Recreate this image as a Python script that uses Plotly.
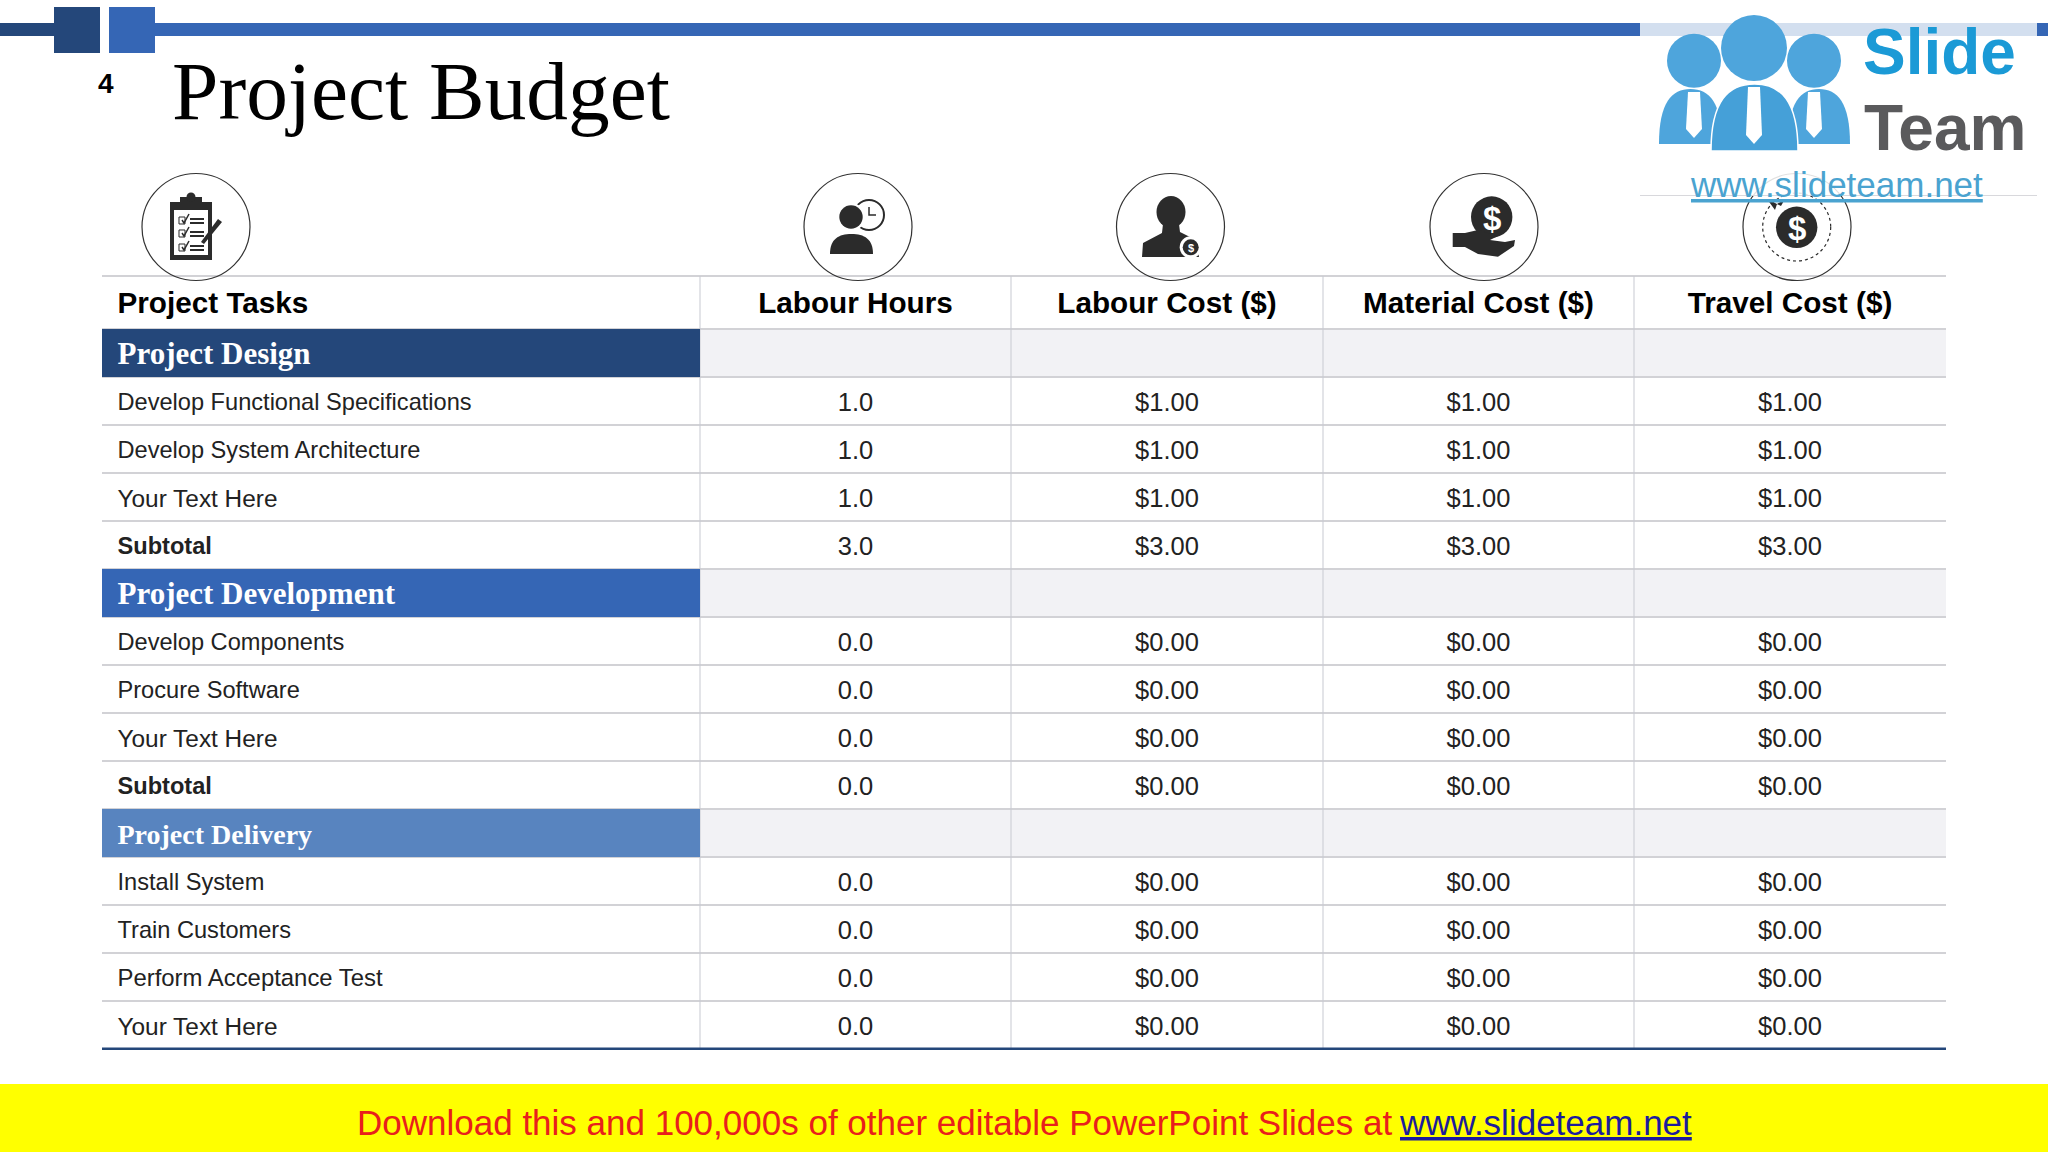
import plotly.graph_objects as go

W, H = 2048, 1152

# ---- data ----
tasks = ["Project Design", "Develop Functional Specifications", "Develop System Architecture", "Your Text Here", "Subtotal",
         "Project Development", "Develop Components", "Procure Software", "Your Text Here", "Subtotal",
         "Project Delivery", "Install System", "Train Customers", "Perform Acceptance Test", "Your Text Here"]
labour_hours = [None, 1.0, 1.0, 1.0, 3.0, None, 0.0, 0.0, 0.0, 0.0, None, 0.0, 0.0, 0.0, 0.0]
labour_cost = [None, 1.0, 1.0, 1.0, 3.0, None, 0.0, 0.0, 0.0, 0.0, None, 0.0, 0.0, 0.0, 0.0]
material_cost = [None, 1.0, 1.0, 1.0, 3.0, None, 0.0, 0.0, 0.0, 0.0, None, 0.0, 0.0, 0.0, 0.0]
travel_cost = [None, 1.0, 1.0, 1.0, 3.0, None, 0.0, 0.0, 0.0, 0.0, None, 0.0, 0.0, 0.0, 0.0]
headers = ["Project Tasks", "Labour Hours", "Labour Cost ($)", "Material Cost ($)", "Travel Cost ($)"]
section_colors = {"Project Design": "#24477a", "Project Development": "#3566b5", "Project Delivery": "#5884bf"}
label_sizes = {"Project Design": 31, "Project Development": 31, "Project Delivery": 28,
               "Your Text Here": 24.4, "Perform Acceptance Test": 23.9}

SANS = "Liberation Sans"
SERIF = "Liberation Serif"
GRID = "#d2d2d6"
VGRID = "#c8cad2"
TEXT = "#222222"

# table geometry on a pixel-sized hidden axis pair
col_edges = [102, 700, 1011, 1323, 1634, 1946]
table_top, header_h, row_h = 276, 53, 48
body_top = table_top + header_h
table_bottom = body_top + row_h * len(tasks)
text_shift = 3.5
row_mid = [body_top + row_h * (i + 0.5) + text_shift for i in range(len(tasks))]
header_mid = table_top + header_h / 2 + text_shift
col_mid = [(a + b) / 2 for a, b in zip(col_edges, col_edges[1:])]
label_x = col_edges[0] + 15.5

def hours(v): return "" if v is None else f"{v:.1f}"
def money(v): return "" if v is None else f"${v:.2f}"

is_sec = [t in section_colors for t in tasks]
fig = go.Figure()
skip = dict(mode="text", hoverinfo="skip", showlegend=False, cliponaxis=False)

# header row
fig.add_trace(go.Scatter(x=[label_x], y=[header_mid], text=[f"<b>{headers[0]}</b>"],
                         textposition="middle right", name=headers[0],
                         textfont=dict(family=SANS, size=29.7, color="black"), **skip))
fig.add_trace(go.Scatter(x=col_mid[1:], y=[header_mid] * 4, text=[f"<b>{h}</b>" for h in headers[1:]],
                         textposition="middle center", name="headers",
                         textfont=dict(family=SANS, size=29.7, color="black"), **skip))
# task column
fig.add_trace(go.Scatter(x=[label_x] * len(tasks), y=row_mid,
                         text=[f"<b>{t}</b>" if (t in section_colors or t == "Subtotal") else t for t in tasks],
                         textposition="middle right", name="Project Tasks",
                         textfont=dict(family=[SERIF if s else SANS for s in is_sec],
                                       size=[label_sizes.get(t, 23.6) for t in tasks],
                                       color=["white" if s else TEXT for s in is_sec]), **skip))
# value columns
for j, (name, vals, fmt) in enumerate([("Labour Hours", labour_hours, hours), ("Labour Cost", labour_cost, money),
                                       ("Material Cost", material_cost, money), ("Travel Cost", travel_cost, money)]):
    fig.add_trace(go.Scatter(x=[col_mid[j + 1]] * len(vals), y=row_mid, text=[fmt(v) for v in vals],
                             textposition="middle center", name=name,
                             textfont=dict(family=SANS, size=25.5, color=TEXT), **skip))

# ---- pixel helpers for the slide decoration ----
def X(p): return p / W
def Y(p): return 1 - p / H
shapes, notes = [], []

def rect(x0, y0, x1, y1, color, layer="above"):
    shapes.append(dict(type="rect", xref="paper", yref="paper", x0=X(x0), x1=X(x1), y0=Y(y0), y1=Y(y1),
                       fillcolor=color, line_width=0, layer=layer))

def ell(cx, cy, rx, ry, fill=None, line=None, lw=1.2, dash=None):
    shapes.append(dict(type="circle", xref="paper", yref="paper", x0=X(cx - rx), x1=X(cx + rx), y0=Y(cy - ry), y1=Y(cy + ry),
                       fillcolor=fill or "rgba(0,0,0,0)", layer="above",
                       line=dict(color=line or "rgba(0,0,0,0)", width=lw if line else 0, dash=dash or "solid")))

def poly(pts, fill=None, line=None, lw=1.5, close=True):
    d = "M" + " L".join(f"{X(a):.5f},{Y(b):.5f}" for a, b in pts) + (" Z" if close else "")
    shapes.append(dict(type="path", xref="paper", yref="paper", path=d, fillcolor=fill or "rgba(0,0,0,0)", layer="above",
                       line=dict(color=line or "rgba(0,0,0,0)", width=lw if line else 0)))

def dome(x0, x1, top, bot, fill, line=None):
    w = x1 - x0
    d = (f"M{X(x0):.5f},{Y(bot):.5f} C{X(x0):.5f},{Y(top + (bot - top) * 0.25):.5f} {X(x0 + w * 0.2):.5f},{Y(top):.5f} {X(x0 + w * 0.5):.5f},{Y(top):.5f} "
         f"C{X(x1 - w * 0.2):.5f},{Y(top):.5f} {X(x1):.5f},{Y(top + (bot - top) * 0.25):.5f} {X(x1):.5f},{Y(bot):.5f} Z")
    shapes.append(dict(type="path", xref="paper", yref="paper", path=d, fillcolor=fill, layer="above",
                       line=dict(color=line or "rgba(0,0,0,0)", width=1.5 if line else 0)))

def text(x, y, s, size, color, family=SANS, anchor="left", **font):
    notes.append(dict(xref="paper", yref="paper", x=X(x), y=Y(y), xanchor=anchor, yanchor="middle", text=s, showarrow=False,
                      font=dict(family=family, size=size, color=color, **font)))

# table backgrounds and rules
for i, t in enumerate(tasks):
    if t in section_colors:
        y0, y1 = body_top + i * row_h, body_top + (i + 1) * row_h
        rect(col_edges[1], y0, col_edges[-1], y1, "#f2f2f5", "below")
for i in range(len(tasks) + 1):
    y = body_top + i * row_h
    rect(col_edges[0], y - 1, col_edges[-1], y + 1, GRID, "below")
rect(col_edges[0], table_top - 1, col_edges[-1], table_top + 1, GRID, "below")
for e in col_edges[1:-1]:
    rect(e - 0.5, table_top, e + 0.5, table_bottom, VGRID, "below")
for i, t in enumerate(tasks):
    if t in section_colors:
        y0, y1 = body_top + i * row_h, body_top + (i + 1) * row_h
        rect(col_edges[0], y0, col_edges[1], y1, section_colors[t], "below")
rect(col_edges[0], table_bottom - 1.5, col_edges[-1], table_bottom + 1, "#24477a", "below")

# top bar
rect(0, 23, 54, 36, "#24477a")
rect(54, 7, 100, 53, "#24477a")
rect(109, 7, 155, 53, "#3566b5")
rect(155, 23, 1640, 36, "#3566b5")
rect(1640, 23, 2037, 36, "#d3dfef")
rect(2037, 23, 2048, 36, "#3566b5")

# title and slide number
text(170, 91, "Project Budget", 83.4, "black", SERIF)
text(95.5, 84, "<b>4</b>", 28, "black")

# icon circles
for cx in (196, 858, 1170.5, 1484, 1797):
    ell(cx, 227, 54, 53.5, line="#333333")
INK = "#2b2b2b"

# clipboard
poly([(170, 202), (212, 202), (212, 260), (170, 260)], INK)
rect(180, 197, 202, 204, INK)
ell(191, 197, 4.5, 4.5, INK)
rect(174, 210, 208, 255, "white")
for yy in (220, 233, 247):
    poly([(179, yy - 3), (185, yy - 3), (185, yy + 4), (179, yy + 4)], None, INK, 1)
    poly([(182, yy), (184, yy + 3), (189, yy - 6)], None, INK, 1.5, close=False)
    rect(190, yy - 2, 204, yy, INK)
    rect(190, yy + 2, 204, yy + 4, INK)
poly([(201, 242), (218, 219), (222, 222), (204, 244)], INK)

# labour hours: clock behind a person
ell(869, 215, 15, 15, "white", INK, 2)
poly([(869, 207), (869, 215), (876, 215)], None, INK, 1.5, close=False)
ell(851, 217, 14, 14, "white")
ell(851, 217, 11.7, 11.7, INK)
dome(830, 873, 234, 254, INK)

# labour cost: person with coin
ell(1171, 212, 14.5, 16, INK)
poly([(1163, 224), (1179, 224), (1180, 232), (1196, 240), (1199, 257), (1142, 257), (1143, 243), (1162, 233)], INK)
ell(1190.7, 247.3, 11, 11, "white")
ell(1190.7, 247.3, 8, 8, INK)
text(1190.7, 247.8, "<b>$</b>", 11, "white", anchor="center")

# material cost: coin over hand
ell(1491.7, 217, 20.7, 20.7, INK)
text(1491.7, 218, "<b>$</b>", 33, "white", anchor="center")
poly([(1452.7, 233), (1465, 233), (1478, 230), (1498, 236), (1490, 240), (1505, 242), (1515, 240), (1514, 246),
      (1498, 256.7), (1478, 254), (1465, 247), (1452.7, 247)], INK)

# travel cost: coin in dashed orbit
ell(1796.7, 227, 34, 34, line=INK, lw=1.2, dash="dot")
ell(1796.7, 227.3, 20.7, 20.7, INK)
text(1796.7, 228.3, "<b>$</b>", 33, "white", anchor="center")
poly([(1767, 199), (1781, 206), (1785, 199), (1777, 204), (1775, 210)], INK)

# logo panel
rect(1640, 36, 2037, 195, "rgba(255,255,255,0.85)")
poly([(1640, 195.5), (2037, 195.5)], None, "#d8d8dc", 1, close=False)
BLUE = "#4ea5dc"
ell(1694, 60.7, 27, 27, BLUE)
ell(1814, 60.7, 27, 27, BLUE)
dome(1659, 1722, 89, 144, BLUE)
dome(1788, 1850, 89, 144, BLUE)
ell(1754, 48, 33, 33, BLUE)
dome(1711, 1798, 84, 151, "#45a0d8", "white")
for cx, top, bot in ((1694, 92, 138), (1754, 87, 144), (1814, 92, 138)):
    poly([(cx - 6, top), (cx + 6, top), (cx + 8, bot - 9), (cx, bot), (cx - 8, bot - 9)], "white")
text(1861, 52, "<b>Slide</b>", 64, "#1b9ad6")
text(1862, 128, "<b>Team</b>", 64, "#5a5a5c")
text(1688, 184, "www.slideteam.net", 35, "#4aa3d0", lineposition="under")

# footer
rect(0, 1084, 2048, 1152, "#ffff00")
text(354.5, 1122, "Download this and 100,000s of other editable PowerPoint Slides at", 35, "#e8201c")
text(1397, 1122, "www.slideteam.net", 35, "#1c1c9c", lineposition="under")

fig.update_layout(width=W, height=H, margin=dict(l=0, r=0, t=0, b=0), paper_bgcolor="white", plot_bgcolor="rgba(0,0,0,0)",
                  xaxis=dict(range=[0, W], visible=False, fixedrange=True),
                  yaxis=dict(range=[H, 0], visible=False, fixedrange=True),
                  showlegend=False, shapes=shapes, annotations=notes)
fig.write_html("out.html", config={"displayModeBar": False},
               post_script="document.body.style.margin='0';document.body.style.overflow='hidden';")
